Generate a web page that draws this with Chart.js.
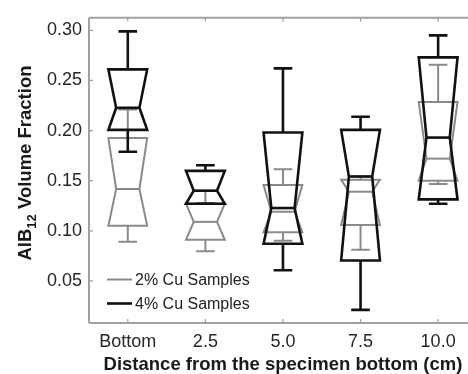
<!DOCTYPE html>
<html>
<head>
<meta charset="utf-8">
<script src="https://cdn.jsdelivr.net/npm/chart.js@4.4.0/dist/chart.umd.min.js"></script>
<style>
  html, body { margin: 0; padding: 0; background: #fff; overflow: hidden; }
  #wrap { width: 468px; height: 374px; }
</style>
</head>
<body>
<div id="wrap"><canvas id="boxChart" width="468" height="374"></canvas></div>
<script>
const categories = ['Bottom', '2.5', '5.0', '7.5', '10.0']
const yTicks = [0.05, 0.10, 0.15, 0.20, 0.25, 0.30]

// 2% Cu samples (grey)
const cu2Low = [0.089, 0.0795, 0.090, 0.081, 0.1466]
const cu2Q1 = [0.105, 0.091, 0.0985, 0.1057, 0.150]
const cu2Median = [0.1417, 0.1089, 0.119, 0.139, 0.172]
const cu2Q3 = [0.1925, 0.127, 0.1456, 0.151, 0.2286]
const cu2High = [0.221, 0.140, 0.1614, 0.154, 0.2656]

// 4% Cu samples (black)
const cu4Low = [0.1788, 0.127, 0.0607, 0.0211, 0.127]
const cu4Q1 = [0.2007, 0.127, 0.087, 0.0703, 0.1313]
const cu4Median = [0.2227, 0.140, 0.1227, 0.1542, 0.193]
const cu4Q3 = [0.261, 0.1598, 0.198, 0.2007, 0.273]
const cu4High = [0.299, 0.1654, 0.262, 0.2138, 0.295]

const FONT = '"Liberation Sans", Arial, sans-serif'

const series = [
    { label: '2% Cu Samples', color: '#8a8a8a', width: 2, low: cu2Low, q1: cu2Q1, med: cu2Median, q3: cu2Q3, high: cu2High },
    { label: '4% Cu Samples', color: '#111111', width: 2.6, low: cu4Low, q1: cu4Q1, med: cu4Median, q3: cu4Q3, high: cu4High }
]

const boxPlugin = {
    id: 'notchedBoxes',
    beforeDatasetsDraw(chart) {
        const { ctx, chartArea: a, scales: { x, y } } = chart
        ctx.save()
        ctx.strokeStyle = '#a0a0a0'
        ctx.lineWidth = 2
        // frame: the right side lies outside the picture
        ctx.beginPath()
        ctx.moveTo(a.left, a.top); ctx.lineTo(a.right, a.top)
        ctx.moveTo(a.left, a.top); ctx.lineTo(a.left, a.bottom)
        ctx.moveTo(a.left, a.bottom); ctx.lineTo(a.right, a.bottom)
        ctx.stroke()
        ctx.lineWidth = 1.2
        ctx.beginPath()
        categories.forEach((c, i) => {
            const px = x.getPixelForValue(i + 1)
            ctx.moveTo(px, a.bottom); ctx.lineTo(px, a.bottom - 4)
            ctx.moveTo(px, a.top); ctx.lineTo(px, a.top + 4)
        })
        yTicks.forEach(v => {
            const py = y.getPixelForValue(v)
            ctx.moveTo(a.left, py); ctx.lineTo(a.left + 4, py)
        })
        ctx.stroke()
        ctx.restore()
    },
    afterDatasetsDraw(chart) {
        const { ctx, scales: { x, y } } = chart
        const step = x.getPixelForValue(2) - x.getPixelForValue(1)
        const hw = step * 0.25, nw = step * 0.15, cw = step * 0.12
        series.forEach(s => {
            ctx.save()
            ctx.strokeStyle = s.color
            ctx.lineWidth = s.width
            ctx.lineJoin = 'miter'
            categories.forEach((c, i) => {
                const cx = x.getPixelForValue(i + 1)
                const yl = y.getPixelForValue(s.low[i])
                const y1 = y.getPixelForValue(s.q1[i])
                const ym = y.getPixelForValue(s.med[i])
                const y3 = y.getPixelForValue(s.q3[i])
                const yh = y.getPixelForValue(s.high[i])
                ctx.beginPath()
                ctx.moveTo(cx, y3); ctx.lineTo(cx, yh)
                ctx.moveTo(cx - cw, yh); ctx.lineTo(cx + cw, yh)
                ctx.moveTo(cx, y1); ctx.lineTo(cx, yl)
                ctx.moveTo(cx - cw, yl); ctx.lineTo(cx + cw, yl)
                ctx.stroke()
                ctx.beginPath()
                ctx.moveTo(cx - hw, y3)
                ctx.lineTo(cx - nw, ym)
                ctx.lineTo(cx - hw, y1)
                ctx.lineTo(cx + hw, y1)
                ctx.lineTo(cx + nw, ym)
                ctx.lineTo(cx + hw, y3)
                ctx.closePath()
                ctx.stroke()
                ctx.beginPath()
                ctx.moveTo(cx - nw, ym); ctx.lineTo(cx + nw, ym)
                ctx.stroke()
            })
            ctx.restore()
        })
    },
    afterDraw(chart) {
        const { ctx, chartArea: a, scales: { x } } = chart
        ctx.save()
        // legend inside the plot, lower left
        ctx.font = '16px ' + FONT
        ctx.textBaseline = 'middle'
        series.forEach((s, i) => {
            const ly = 279.5 + i * 24
            ctx.strokeStyle = s.color
            ctx.lineWidth = s.width
            ctx.beginPath()
            ctx.moveTo(a.left + 18, ly); ctx.lineTo(a.left + 43, ly)
            ctx.stroke()
            ctx.fillStyle = '#222'
            ctx.fillText(s.label, a.left + 46, ly + 1)
        })

        // x axis title, centred on the full (partly hidden) plot box
        ctx.font = 'bold 18.5px ' + FONT
        ctx.textAlign = 'center'
        ctx.fillStyle = '#1a1a1a'
        ctx.fillText('Distance from the specimen bottom (cm)', x.getPixelForValue(3), 365)

        // y axis title with subscript
        ctx.translate(31, 163)
        ctx.rotate(-Math.PI / 2)
        ctx.textAlign = 'left'
        ctx.textBaseline = 'alphabetic'
        const big = 'bold 18.5px ' + FONT, small = 'bold 13px ' + FONT
        ctx.font = big
        const w1 = ctx.measureText('AlB').width
        const w3 = ctx.measureText(' Volume Fraction').width
        ctx.font = small
        const w2 = ctx.measureText('12').width
        let px = -(w1 + w2 + w3) / 2
        ctx.font = big
        ctx.fillText('AlB', px, 0); px += w1
        ctx.font = small
        ctx.fillText('12', px, 5); px += w2
        ctx.font = big
        ctx.fillText(' Volume Fraction', px, 0)
        ctx.restore()
    }
}

const ctx = document.getElementById('boxChart').getContext('2d')
new Chart(ctx, {
    type: 'line',
    data: {
        labels: categories,
        datasets: series.map(s => ({
            label: s.label,
            data: s.med.map((v, i) => ({ x: i + 1, y: v })),
            borderColor: s.color,
            showLine: false,
            pointRadius: 0
        }))
    },
    options: {
        responsive: false,
        animation: false,
        devicePixelRatio: 1,
        layout: { padding: { top: 13, right: 0, left: 0, bottom: 0 } },
        plugins: { legend: { display: false }, tooltip: { enabled: false } },
        scales: {
            x: {
                type: 'linear',
                min: 0.5,
                max: 5.385,
                afterBuildTicks: s => { s.ticks = categories.map((c, i) => ({ value: i + 1 })) },
                afterFit: s => { s.height = 51 },
                grid: { display: false, drawTicks: false },
                border: { display: false },
                ticks: {
                    callback: v => categories[v - 1],
                    autoSkip: false,
                    maxRotation: 0,
                    padding: 8,
                    color: '#262626',
                    font: { family: FONT, size: 18 }
                }
            },
            y: {
                min: 0.008,
                max: 0.3125,
                afterBuildTicks: s => { s.ticks = yTicks.map(v => ({ value: v })) },
                afterFit: s => { s.width = 89 },
                grid: { display: false, drawTicks: false },
                border: { display: false },
                ticks: {
                    callback: v => v.toFixed(2),
                    padding: 7,
                    color: '#262626',
                    font: { family: FONT, size: 18 }
                }
            }
        }
    },
    plugins: [boxPlugin]
})
</script>
</body>
</html>
